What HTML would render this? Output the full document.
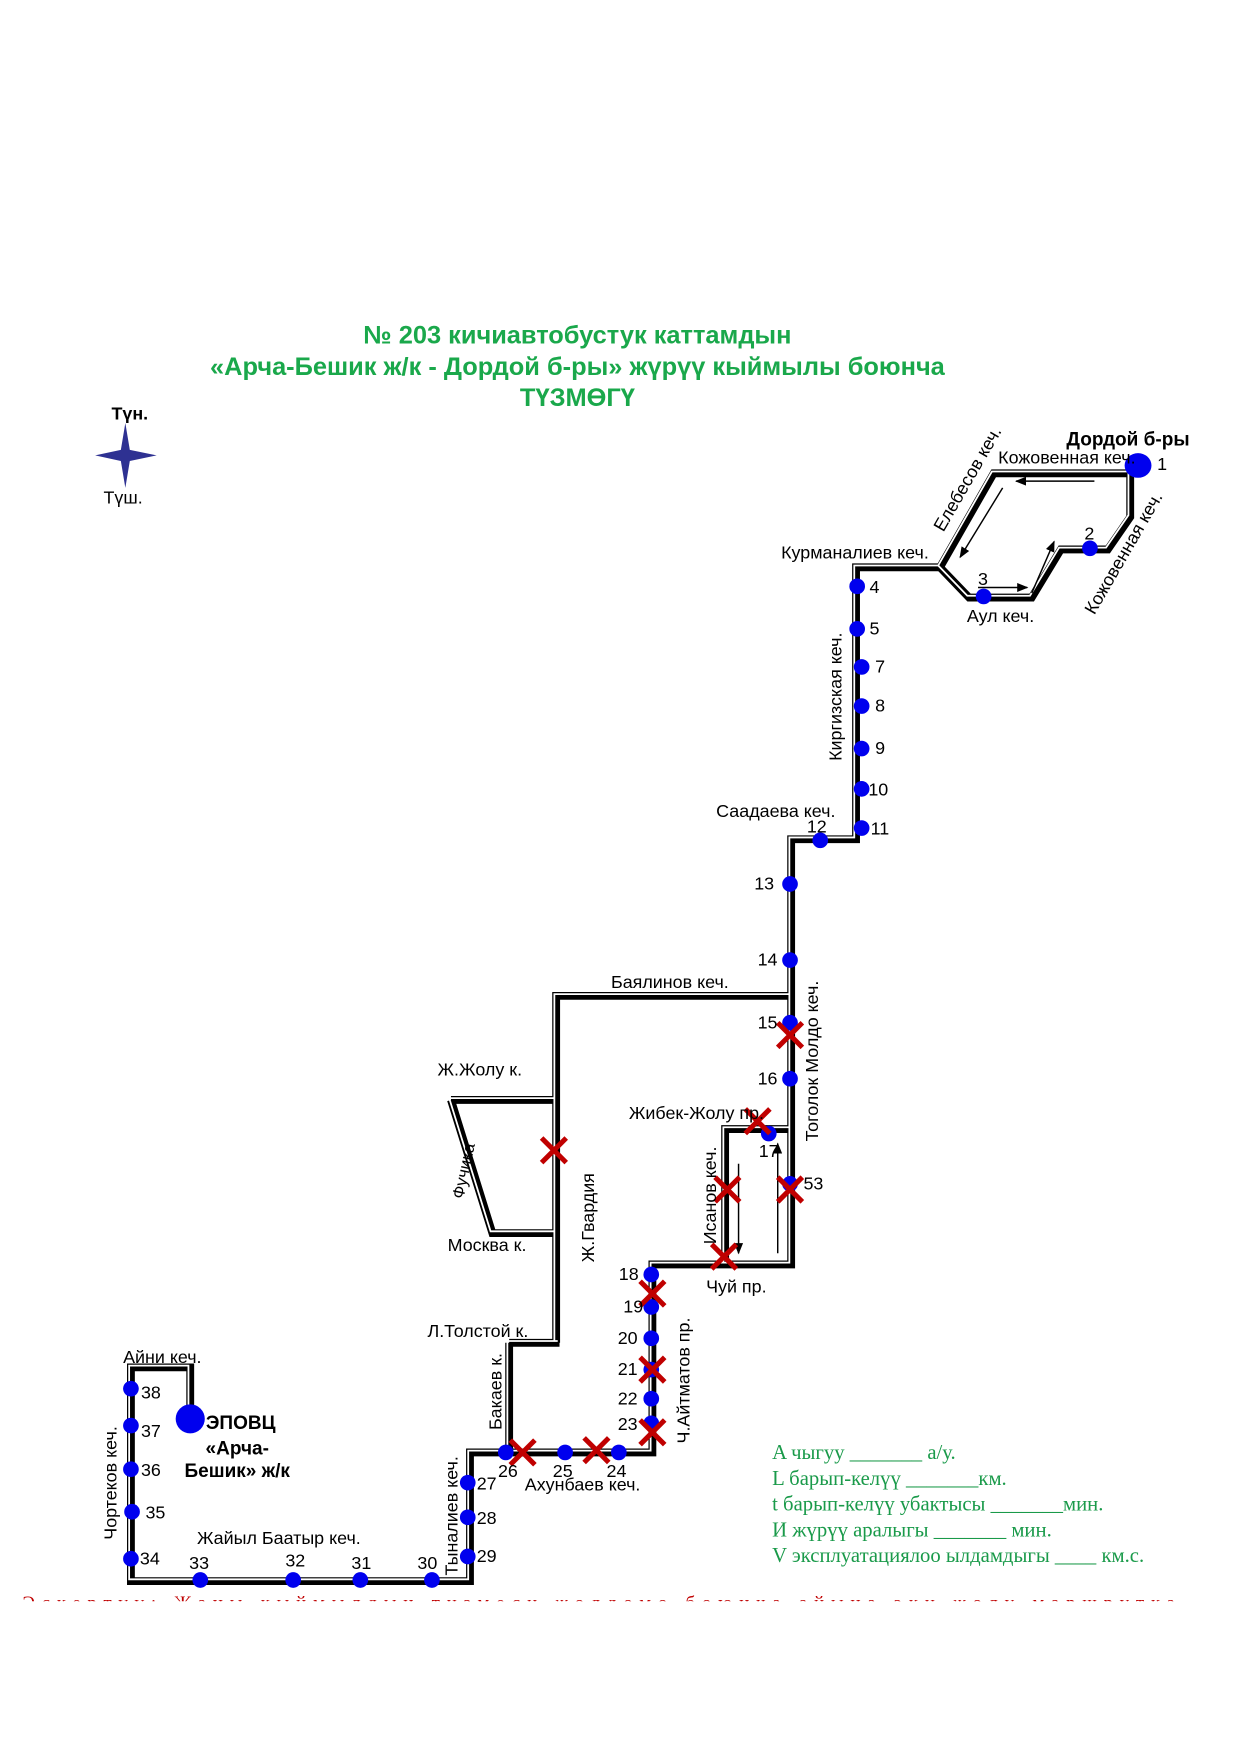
<!DOCTYPE html>
<html><head><meta charset="utf-8"><style>
html,body{margin:0;padding:0;background:#fff;}
svg{display:block}
text{font-family:"Liberation Sans",sans-serif;fill:#000}
.s{font-size:16px}
.g{font-family:"Liberation Serif",serif;fill:#1a9a4a;font-size:18.5px}
</style></head><body>
<svg width="1241" height="1754" viewBox="0 0 1109 1567.5" preserveAspectRatio="none" xmlns="http://www.w3.org/2000/svg">
<defs>
<marker id="ah" markerWidth="10" markerHeight="8" refX="9" refY="4" orient="auto" markerUnits="userSpaceOnUse"><path d="M0,0 L10,4 L0,8 Z" fill="#000"/></marker>
<g id="x"><path d="M-11,-11 L11,11 M11,-11 L-11,11" stroke="#c00000" stroke-width="4.5"/></g>
</defs>
<g font-weight="bold" font-size="22.7" text-anchor="middle">
<text x="516" y="307" style="fill:#1aa84b">№ 203  кичиавтобустук каттамдын</text>
<text x="516" y="335" style="fill:#1aa84b">«Арча-Бешик ж/к - Дордой б-ры»  жүрүү кыймылы боюнча</text>
<text x="516" y="363" style="fill:#1aa84b">ТҮЗМӨГҮ</text>
</g>
<path d="M112,378 L116,402 L140,407 L116,412 L112,436 L108,412 L85,407 L108,402 Z" fill="#2e3192"/>
<text x="116" y="375" font-weight="bold" font-size="16" text-anchor="middle">Түн.</text>
<text x="110" y="450" font-size="16" text-anchor="middle">Түш.</text>

<g fill="none">
<g id="roads">
<path d="M1010,423 L888,423 L840,507 L765,507 L765,750 L707,750 L707,1130 L583,1130 L583,1298 L420,1298 L420,1413 L117,1413 L117,1222 L170,1222 L170,1262"/>
<path d="M840,507 L866,534 L922,534 L948,491 L990,491 L1010,462 L1010,423"/>
<path d="M707,890 L497,890 L497,1200 M455,1200 L500,1200 M455,1200 L455,1298"/>
<path d="M403,983 L497,983 M403,983 L440,1102 L497,1102"/>
<path d="M648,1130 L648,1009 L707,1009"/>
</g>
</g>
<use href="#roads" stroke="#000" stroke-width="7" fill="none"/>
<use href="#roads" stroke="#fff" stroke-width="1.6" fill="none" transform="translate(-1.6,-1.6)"/>
<g stroke="#000" stroke-width="1.3" fill="none" marker-end="url(#ah)">
<path d="M978,430 L908,430"/>
<path d="M896,436 L858,498"/>
<path d="M874,525 L918,525"/>
<path d="M922,530 L942,484"/>
<path d="M660,1040 L660,1120"/>
<path d="M695,1120 L695,1022"/>
</g>
<g fill="#0000ee">
<ellipse cx="1017" cy="416" rx="12" ry="11"/>
<circle cx="974" cy="490" r="7"/><circle cx="879" cy="533" r="7"/>
<circle cx="766" cy="524" r="7"/><circle cx="766" cy="562" r="7"/><circle cx="770" cy="596" r="7"/>
<circle cx="770" cy="631" r="7"/><circle cx="770" cy="669" r="7"/><circle cx="770" cy="705" r="7"/>
<circle cx="770" cy="740" r="7"/><circle cx="733" cy="751" r="7"/><circle cx="706" cy="790" r="7"/>
<circle cx="706" cy="858" r="7"/><circle cx="706" cy="914" r="7"/><circle cx="706" cy="964" r="7"/>
<circle cx="687" cy="1013" r="7"/><circle cx="706" cy="1058" r="7"/>
<circle cx="582" cy="1139" r="7"/><circle cx="582" cy="1168" r="7"/><circle cx="582" cy="1196" r="7"/>
<circle cx="582" cy="1224" r="7"/><circle cx="582" cy="1250" r="7"/><circle cx="582" cy="1272" r="7"/>
<circle cx="553" cy="1298" r="7"/><circle cx="505" cy="1298" r="7"/><circle cx="452" cy="1298" r="7"/>
<circle cx="418" cy="1325" r="7"/><circle cx="418" cy="1356" r="7"/><circle cx="418" cy="1391" r="7"/>
<circle cx="386" cy="1412" r="7"/><circle cx="322" cy="1412" r="7"/><circle cx="262" cy="1412" r="7"/><circle cx="179" cy="1412" r="7"/>
<circle cx="117" cy="1393" r="7"/><circle cx="118" cy="1351" r="7"/><circle cx="117" cy="1313" r="7"/>
<circle cx="117" cy="1274" r="7"/><circle cx="117" cy="1241" r="7"/>
<circle cx="170" cy="1268" r="13"/>
</g>
<use href="#x" x="706" y="925"/><use href="#x" x="677" y="1002"/><use href="#x" x="650" y="1063"/>
<use href="#x" x="706" y="1063"/><use href="#x" x="647" y="1123"/><use href="#x" x="583" y="1156"/>
<use href="#x" x="583" y="1224"/><use href="#x" x="583" y="1280"/><use href="#x" x="467" y="1298"/>
<use href="#x" x="533" y="1296"/><use href="#x" x="495" y="1028"/>
<g font-size="16">
<text x="1034" y="420">1</text><text x="969" y="482">2</text><text x="874" y="523">3</text>
<text x="777" y="530">4</text><text x="777" y="567">5</text><text x="782" y="601">7</text>
<text x="782" y="636">8</text><text x="782" y="674">9</text><text x="776" y="711">10</text>
<text x="778" y="746">11</text><text x="721" y="744">12</text><text x="674" y="795">13</text>
<text x="677" y="863">14</text><text x="677" y="919">15</text><text x="677" y="969">16</text>
<text x="678" y="1034">17</text><text x="718" y="1063">53</text><text x="553" y="1144">18</text>
<text x="557" y="1173">19</text><text x="552" y="1201">20</text><text x="552" y="1229">21</text>
<text x="552" y="1255">22</text><text x="552" y="1278">23</text><text x="542" y="1320">24</text>
<text x="494" y="1320">25</text><text x="445" y="1320">26</text><text x="426" y="1331">27</text>
<text x="426" y="1362">28</text><text x="426" y="1396">29</text><text x="373" y="1402">30</text>
<text x="314" y="1402">31</text><text x="255" y="1400">32</text><text x="169" y="1402">33</text>
<text x="125" y="1398">34</text><text x="130" y="1357">35</text><text x="126" y="1319">36</text>
<text x="126" y="1284">37</text><text x="126" y="1250">38</text>
</g>
<g class="s">
<text x="953" y="398" font-weight="bold" font-size="17">Дордой б-ры</text>
<text x="892" y="414">Кожовенная кеч.</text>
<text transform="translate(843,476) rotate(-60)">Елебесов  кеч.</text>
<text transform="translate(978,550) rotate(-60)">Кожовенная  кеч.</text>
<text x="698" y="499">Курманалиев кеч.</text>
<text x="864" y="556">Аул  кеч.</text>
<text transform="translate(752,680) rotate(-90)">Киргизская  кеч.</text>
<text x="640" y="730">Саадаева кеч.</text>
<text x="546" y="883">Баялинов кеч.</text>
<text transform="translate(731,1020) rotate(-90)">Тоголок Молдо  кеч.</text>
<text x="391" y="961">Ж.Жолу к.</text>
<text x="562" y="1000">Жибек-Жолу пр.</text>
<text transform="translate(414,1072) rotate(-78)" font-size="15">Фучика</text>
<text transform="translate(640,1112) rotate(-90)">Исанов кеч.</text>
<text transform="translate(531,1128) rotate(-90)">Ж.Гвардия</text>
<text x="400" y="1118">Москва к.</text>
<text x="631" y="1155">Чуй пр.</text>
<text x="382" y="1195">Л.Толстой к.</text>
<text transform="translate(616,1290) rotate(-90)">Ч.Айтматов пр.</text>
<text transform="translate(448,1278) rotate(-90)">Бакаев к.</text>
<text x="469" y="1332">Ахунбаев кеч.</text>
<text transform="translate(409,1408) rotate(-90)">Тыналиев кеч.</text>
<text x="110" y="1218">Айни кеч.</text>
<text x="184" y="1277" font-weight="bold" font-size="17">ЭПОВЦ</text>
<text x="212" y="1300" font-weight="bold" font-size="17" text-anchor="middle">«Арча-</text>
<text x="212" y="1320" font-weight="bold" font-size="17" text-anchor="middle">Бешик» ж/к</text>
<text transform="translate(104,1376) rotate(-90)">Чортеков кеч.</text>
<text x="176" y="1380">Жайыл Баатыр кеч.</text>
</g>
<text class="g" x="690" y="1304">A чыгуу  _______  а/у.</text>
<text class="g" x="690" y="1327">L барып-келүү   _______км.</text>
<text class="g" x="690" y="1350">t барып-келүү убактысы _______мин.</text>
<text class="g" x="690" y="1373">И жүрүү аралыгы _______   мин.</text>
<text class="g" x="690" y="1396">V эксплуатациялоо ылдамдыгы ____ км.с.</text>
<clipPath id="cp"><rect x="0" y="1421" width="1109" height="10"/></clipPath>
<text clip-path="url(#cp)" x="20" y="1438" font-size="17" style="fill:#c00000;font-family:'Liberation Serif',serif" textLength="1030">Эскертүү:   Жаңы   кыймылдын   тизмеси   жолдомо   боюнча   айына   эки   жолу   маршрутка</text>
</svg>
</body></html>
